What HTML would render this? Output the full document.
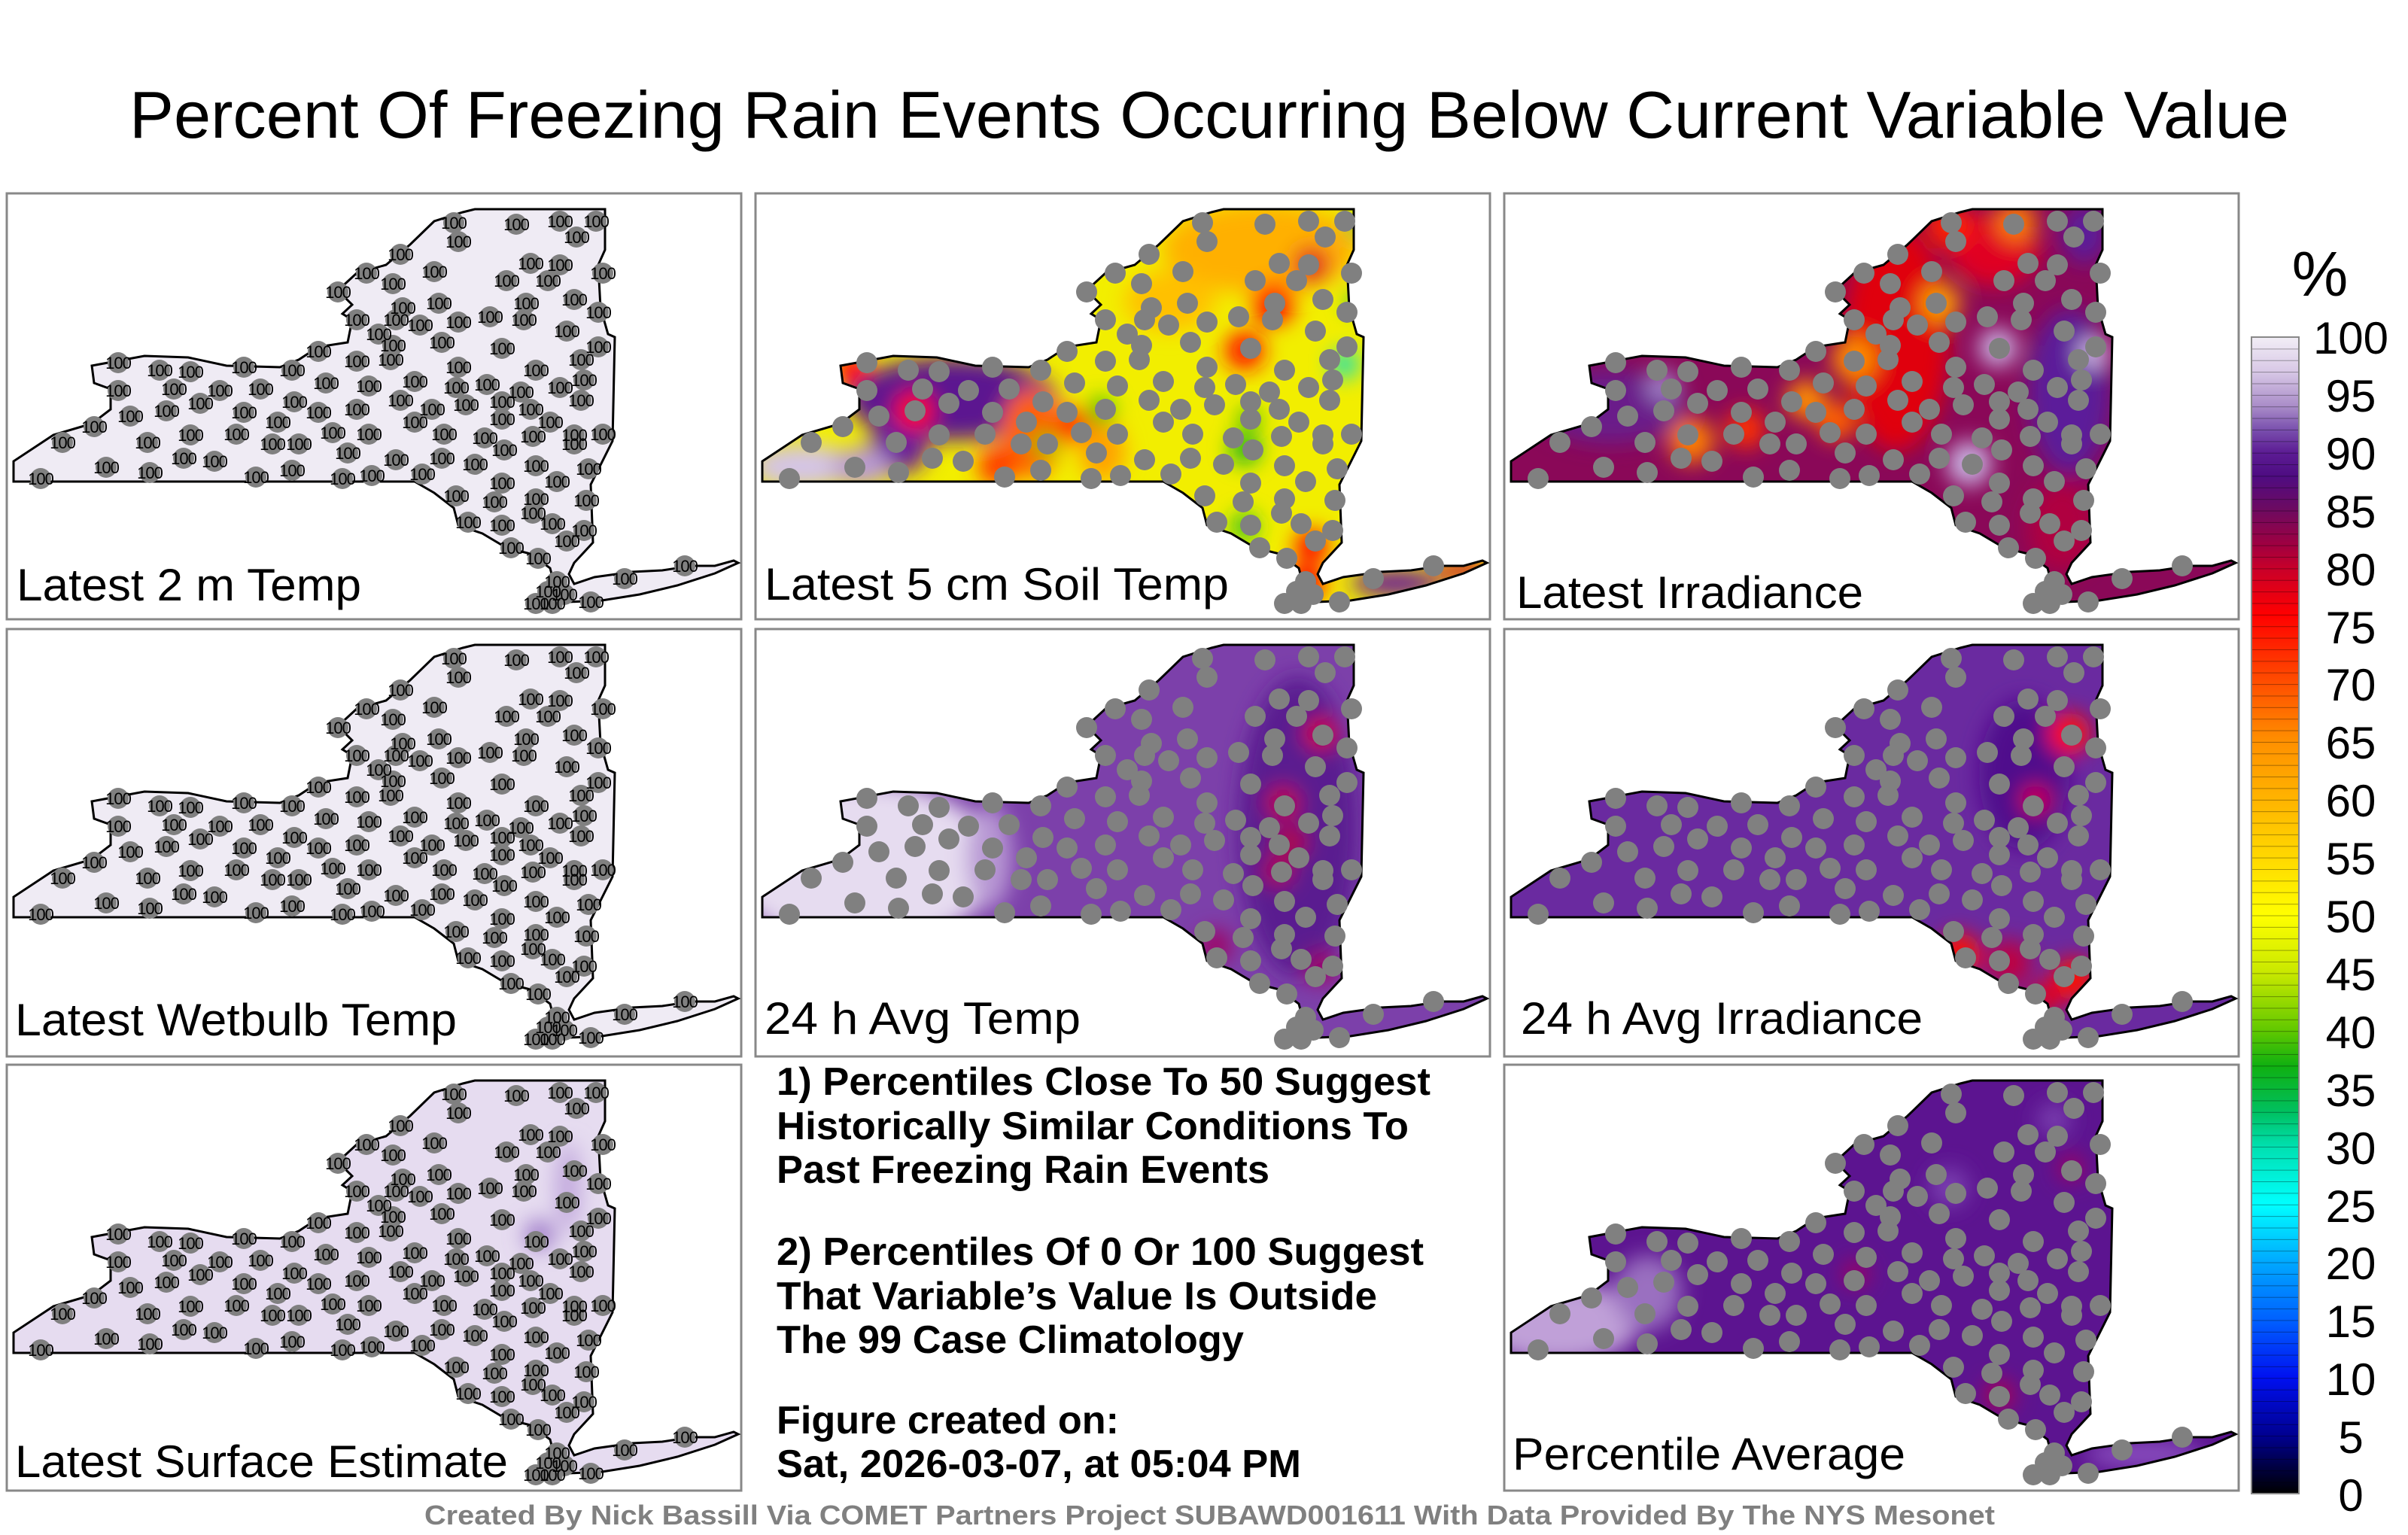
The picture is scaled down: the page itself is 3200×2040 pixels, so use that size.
<!DOCTYPE html>
<html><head><meta charset="utf-8"><style>html,body{margin:0;padding:0;background:#fff}svg{display:block}</style></head>
<body>
<svg xmlns="http://www.w3.org/2000/svg" xmlns:xlink="http://www.w3.org/1999/xlink" width="3200" height="2040" viewBox="0 0 3200 2040" font-family="'Liberation Sans', sans-serif">
<defs>
<path id="ny" d="M18,613 L18,640 L551,640 L577,655 L603,675 L609,698 L641,709 L673,728 L705,736 L731,755 L737,778 L731,805 L756,800 L800,798 L850,790 L900,778 L950,762 L981,748 L975,745 L950,752 L920,752 L880,758 L840,760 L790,767 L763,776 L756,763 L763,748 L788,721 L785,644 L814,586 L817,448 L808,444 L798,409 L795,352 L804,332 L804,278 L631,278 L615,282 L577,294 L545,325 L513,352 L474,363 L449,386 L468,405 L455,417 L468,425 L462,455 L423,461 L397,478 L372,488 L301,486 L250,475 L192,473 L122,486 L125,509 L147,517 L147,544 L122,563 L71,578 Z"/>
<clipPath id="c"><use xlink:href="#ny"/></clipPath>
<filter id="b" x="-50%" y="-50%" width="200%" height="200%"><feGaussianBlur stdDeviation="14"/></filter>
<linearGradient id="cb" x1="0" y1="0" x2="0" y2="1">
<stop offset="0" stop-color="#f2eef6"/><stop offset="0.03" stop-color="#d8c8e6"/><stop offset="0.06" stop-color="#a98cc8"/>
<stop offset="0.08" stop-color="#7a50ae"/><stop offset="0.10" stop-color="#5c1c94"/><stop offset="0.12" stop-color="#4e0c82"/>
<stop offset="0.15" stop-color="#6e0a60"/><stop offset="0.18" stop-color="#a00040"/><stop offset="0.20" stop-color="#c8002a"/>
<stop offset="0.24" stop-color="#ff0000"/><stop offset="0.30" stop-color="#ff5000"/><stop offset="0.35" stop-color="#ff9000"/>
<stop offset="0.40" stop-color="#ffb400"/><stop offset="0.45" stop-color="#ffd800"/><stop offset="0.50" stop-color="#ffff00"/>
<stop offset="0.55" stop-color="#c8e800"/><stop offset="0.60" stop-color="#60c800"/><stop offset="0.63" stop-color="#10b010"/>
<stop offset="0.67" stop-color="#00c060"/><stop offset="0.70" stop-color="#00e0b0"/><stop offset="0.75" stop-color="#00ffff"/>
<stop offset="0.80" stop-color="#00a8ff"/><stop offset="0.85" stop-color="#0060ff"/><stop offset="0.90" stop-color="#0010f0"/>
<stop offset="0.95" stop-color="#000090"/><stop offset="1" stop-color="#000000"/>
</linearGradient>
<pattern id="ln" width="10" height="15.37" patternUnits="userSpaceOnUse" y="448"><rect width="10" height="1" fill="#000" opacity="0.35"/></pattern>
<g id="st" fill="#808080">
<circle cx="603" cy="296" r="14"/><circle cx="686" cy="298" r="14"/><circle cx="744" cy="294" r="14"/><circle cx="792" cy="294" r="14"/><circle cx="766" cy="315" r="14"/><circle cx="609" cy="321" r="14"/><circle cx="532" cy="338" r="14"/><circle cx="705" cy="350" r="14"/><circle cx="744" cy="352" r="14"/><circle cx="487" cy="363" r="14"/><circle cx="577" cy="361" r="14"/><circle cx="673" cy="373" r="14"/><circle cx="728" cy="373" r="14"/><circle cx="801" cy="363" r="14"/><circle cx="522" cy="377" r="14"/><circle cx="449" cy="388" r="14"/><circle cx="583" cy="403" r="14"/><circle cx="535" cy="409" r="14"/><circle cx="699" cy="403" r="14"/><circle cx="763" cy="398" r="14"/><circle cx="795" cy="415" r="14"/><circle cx="474" cy="425" r="14"/><circle cx="526" cy="425" r="14"/><circle cx="558" cy="432" r="14"/><circle cx="609" cy="428" r="14"/><circle cx="651" cy="421" r="14"/><circle cx="696" cy="425" r="14"/><circle cx="753" cy="440" r="14"/><circle cx="503" cy="444" r="14"/><circle cx="587" cy="455" r="14"/><circle cx="522" cy="459" r="14"/><circle cx="667" cy="463" r="14"/><circle cx="795" cy="461" r="14"/><circle cx="423" cy="467" r="14"/><circle cx="474" cy="480" r="14"/><circle cx="519" cy="478" r="14"/><circle cx="772" cy="478" r="14"/><circle cx="609" cy="488" r="14"/><circle cx="712" cy="492" r="14"/><circle cx="157" cy="482" r="14"/><circle cx="212" cy="492" r="14"/><circle cx="253" cy="494" r="14"/><circle cx="324" cy="488" r="14"/><circle cx="388" cy="492" r="14"/><circle cx="433" cy="509" r="14"/><circle cx="490" cy="513" r="14"/><circle cx="551" cy="507" r="14"/><circle cx="606" cy="515" r="14"/><circle cx="647" cy="511" r="14"/><circle cx="692" cy="521" r="14"/><circle cx="744" cy="515" r="14"/><circle cx="776" cy="505" r="14"/><circle cx="157" cy="519" r="14"/><circle cx="231" cy="517" r="14"/><circle cx="292" cy="519" r="14"/><circle cx="346" cy="517" r="14"/><circle cx="391" cy="534" r="14"/><circle cx="266" cy="536" r="14"/><circle cx="221" cy="546" r="14"/><circle cx="772" cy="532" r="14"/><circle cx="532" cy="532" r="14"/><circle cx="574" cy="544" r="14"/><circle cx="619" cy="538" r="14"/><circle cx="667" cy="534" r="14"/><circle cx="705" cy="544" r="14"/><circle cx="731" cy="561" r="14"/><circle cx="173" cy="553" r="14"/><circle cx="324" cy="548" r="14"/><circle cx="369" cy="561" r="14"/><circle cx="423" cy="548" r="14"/><circle cx="474" cy="544" r="14"/><circle cx="551" cy="561" r="14"/><circle cx="667" cy="557" r="14"/><circle cx="125" cy="567" r="14"/><circle cx="83" cy="588" r="14"/><circle cx="196" cy="588" r="14"/><circle cx="253" cy="578" r="14"/><circle cx="314" cy="577" r="14"/><circle cx="362" cy="590" r="14"/><circle cx="397" cy="590" r="14"/><circle cx="442" cy="575" r="14"/><circle cx="490" cy="577" r="14"/><circle cx="590" cy="577" r="14"/><circle cx="644" cy="582" r="14"/><circle cx="708" cy="580" r="14"/><circle cx="763" cy="578" r="14"/><circle cx="801" cy="577" r="14"/><circle cx="763" cy="590" r="14"/><circle cx="670" cy="598" r="14"/><circle cx="462" cy="602" r="14"/><circle cx="141" cy="621" r="14"/><circle cx="244" cy="609" r="14"/><circle cx="285" cy="613" r="14"/><circle cx="388" cy="625" r="14"/><circle cx="199" cy="628" r="14"/><circle cx="54" cy="636" r="14"/><circle cx="340" cy="634" r="14"/><circle cx="455" cy="636" r="14"/><circle cx="494" cy="632" r="14"/><circle cx="561" cy="630" r="14"/><circle cx="587" cy="609" r="14"/><circle cx="526" cy="611" r="14"/><circle cx="631" cy="617" r="14"/><circle cx="712" cy="619" r="14"/><circle cx="782" cy="623" r="14"/><circle cx="667" cy="642" r="14"/><circle cx="740" cy="640" r="14"/><circle cx="606" cy="659" r="14"/><circle cx="657" cy="667" r="14"/><circle cx="712" cy="663" r="14"/><circle cx="779" cy="665" r="14"/><circle cx="708" cy="682" r="14"/><circle cx="622" cy="694" r="14"/><circle cx="667" cy="698" r="14"/><circle cx="734" cy="696" r="14"/><circle cx="776" cy="705" r="14"/><circle cx="753" cy="719" r="14"/><circle cx="679" cy="728" r="14"/><circle cx="715" cy="742" r="14"/><circle cx="740" cy="773" r="14"/><circle cx="728" cy="786" r="14"/><circle cx="750" cy="790" r="14"/><circle cx="712" cy="802" r="14"/><circle cx="734" cy="802" r="14"/><circle cx="785" cy="800" r="14"/><circle cx="830" cy="769" r="14"/><circle cx="910" cy="752" r="14"/>
</g>
<g id="t100" font-size="22" text-anchor="middle" fill="#000" letter-spacing="-1">
<text x="603" y="304">100</text><text x="686" y="306">100</text><text x="744" y="302">100</text><text x="792" y="302">100</text><text x="766" y="323">100</text><text x="609" y="329">100</text><text x="532" y="346">100</text><text x="705" y="358">100</text><text x="744" y="360">100</text><text x="487" y="371">100</text><text x="577" y="369">100</text><text x="673" y="381">100</text><text x="728" y="381">100</text><text x="801" y="371">100</text><text x="522" y="385">100</text><text x="449" y="396">100</text><text x="583" y="411">100</text><text x="535" y="417">100</text><text x="699" y="411">100</text><text x="763" y="406">100</text><text x="795" y="423">100</text><text x="474" y="433">100</text><text x="526" y="433">100</text><text x="558" y="440">100</text><text x="609" y="436">100</text><text x="651" y="429">100</text><text x="696" y="433">100</text><text x="753" y="448">100</text><text x="503" y="452">100</text><text x="587" y="463">100</text><text x="522" y="467">100</text><text x="667" y="471">100</text><text x="795" y="469">100</text><text x="423" y="475">100</text><text x="474" y="488">100</text><text x="519" y="486">100</text><text x="772" y="486">100</text><text x="609" y="496">100</text><text x="712" y="500">100</text><text x="157" y="490">100</text><text x="212" y="500">100</text><text x="253" y="502">100</text><text x="324" y="496">100</text><text x="388" y="500">100</text><text x="433" y="517">100</text><text x="490" y="521">100</text><text x="551" y="515">100</text><text x="606" y="523">100</text><text x="647" y="519">100</text><text x="692" y="529">100</text><text x="744" y="523">100</text><text x="776" y="513">100</text><text x="157" y="527">100</text><text x="231" y="525">100</text><text x="292" y="527">100</text><text x="346" y="525">100</text><text x="391" y="542">100</text><text x="266" y="544">100</text><text x="221" y="554">100</text><text x="772" y="540">100</text><text x="532" y="540">100</text><text x="574" y="552">100</text><text x="619" y="546">100</text><text x="667" y="542">100</text><text x="705" y="552">100</text><text x="731" y="569">100</text><text x="173" y="561">100</text><text x="324" y="556">100</text><text x="369" y="569">100</text><text x="423" y="556">100</text><text x="474" y="552">100</text><text x="551" y="569">100</text><text x="667" y="565">100</text><text x="125" y="575">100</text><text x="83" y="596">100</text><text x="196" y="596">100</text><text x="253" y="586">100</text><text x="314" y="585">100</text><text x="362" y="598">100</text><text x="397" y="598">100</text><text x="442" y="583">100</text><text x="490" y="585">100</text><text x="590" y="585">100</text><text x="644" y="590">100</text><text x="708" y="588">100</text><text x="763" y="586">100</text><text x="801" y="585">100</text><text x="763" y="598">100</text><text x="670" y="606">100</text><text x="462" y="610">100</text><text x="141" y="629">100</text><text x="244" y="617">100</text><text x="285" y="621">100</text><text x="388" y="633">100</text><text x="199" y="636">100</text><text x="54" y="644">100</text><text x="340" y="642">100</text><text x="455" y="644">100</text><text x="494" y="640">100</text><text x="561" y="638">100</text><text x="587" y="617">100</text><text x="526" y="619">100</text><text x="631" y="625">100</text><text x="712" y="627">100</text><text x="782" y="631">100</text><text x="667" y="650">100</text><text x="740" y="648">100</text><text x="606" y="667">100</text><text x="657" y="675">100</text><text x="712" y="671">100</text><text x="779" y="673">100</text><text x="708" y="690">100</text><text x="622" y="702">100</text><text x="667" y="706">100</text><text x="734" y="704">100</text><text x="776" y="713">100</text><text x="753" y="727">100</text><text x="679" y="736">100</text><text x="715" y="750">100</text><text x="740" y="781">100</text><text x="728" y="794">100</text><text x="750" y="798">100</text><text x="712" y="810">100</text><text x="734" y="810">100</text><text x="785" y="808">100</text><text x="830" y="777">100</text><text x="910" y="760">100</text>
</g>
</defs>
<rect width="3200" height="2040" fill="#fff"/>
<text x="172" y="183" font-size="88" textLength="2870" lengthAdjust="spacingAndGlyphs">Percent Of Freezing Rain Events Occurring Below Current Variable Value</text>

<g fill="none" stroke="#888" stroke-width="3">
<rect x="9" y="257" width="976" height="566"/><rect x="1004" y="257" width="976" height="566"/><rect x="1999" y="257" width="976" height="566"/>
<rect x="9" y="836" width="976" height="568"/><rect x="1004" y="836" width="976" height="568"/><rect x="1999" y="836" width="976" height="568"/>
<rect x="9" y="1415" width="976" height="566"/><rect x="1999" y="1415" width="976" height="566"/>
</g>

<g>
<use xlink:href="#ny" fill="#efebf4" stroke="#000" stroke-width="3"/>
<use xlink:href="#st"/><use xlink:href="#t100"/>
<text x="22" y="798" font-size="60" textLength="458" lengthAdjust="spacingAndGlyphs">Latest 2 m Temp</text>
</g>
<g transform="translate(995,0)">
<g clip-path="url(#c)"><rect x="0" y="250" width="1000" height="600" fill="#f2ee00"/>
<g filter="url(#b)">
<ellipse cx="680" cy="330" rx="130" ry="60" fill="#ffb000"/><ellipse cx="560" cy="400" rx="60" ry="40" fill="#ffc000"/>
<ellipse cx="270" cy="530" rx="140" ry="55" fill="#5c1490"/><ellipse cx="200" cy="590" rx="40" ry="40" fill="#6a1e9a"/><ellipse cx="70" cy="620" rx="70" ry="30" fill="#d4c4e6"/><ellipse cx="150" cy="620" rx="40" ry="25" fill="#b898d8"/>
<ellipse cx="375" cy="575" rx="40" ry="60" fill="#ff6000"/><ellipse cx="470" cy="600" rx="30" ry="40" fill="#ffa000"/>
<circle cx="220" cy="546" r="26" fill="#ff0000"/><circle cx="430" cy="564" r="22" fill="#ff2000"/><circle cx="697" cy="403" r="28" fill="#ff0000"/><circle cx="659" cy="466" r="26" fill="#ff1800"/><circle cx="748" cy="352" r="25" fill="#e00020"/><circle cx="748" cy="726" r="22" fill="#ff0000"/><circle cx="137" cy="491" r="22" fill="#ff0000"/><circle cx="740" cy="775" r="25" fill="#ff0000"/><circle cx="330" cy="620" r="25" fill="#ff3000"/>
<circle cx="468" cy="546" r="18" fill="#30c000"/><circle cx="392" cy="590" r="16" fill="#60c800"/><circle cx="659" cy="597" r="20" fill="#10b020"/><circle cx="665" cy="557" r="15" fill="#30c000"/><circle cx="659" cy="700" r="18" fill="#20c020"/><circle cx="792" cy="484" r="18" fill="#00e0d0"/><circle cx="808" cy="400" r="14" fill="#20c040"/><circle cx="808" cy="300" r="14" fill="#20c040"/>
<ellipse cx="860" cy="775" rx="60" ry="18" fill="#6a1e9a"/><ellipse cx="950" cy="758" rx="40" ry="12" fill="#c00040"/>
</g></g>
<use xlink:href="#ny" fill="none" stroke="#000" stroke-width="3"/><use xlink:href="#st"/>
<text x="21" y="797" font-size="60" textLength="617" lengthAdjust="spacingAndGlyphs">Latest 5 cm Soil Temp</text>
</g>
<g transform="translate(1990,0)">
<g clip-path="url(#c)"><rect x="0" y="250" width="1000" height="600" fill="#8a0858"/>
<g filter="url(#b)">
<ellipse cx="530" cy="450" rx="70" ry="150" fill="#e00010"/><ellipse cx="660" cy="330" rx="60" ry="50" fill="#e00020"/><ellipse cx="600" cy="300" rx="30" ry="30" fill="#ff2000"/>
<circle cx="474" cy="477" r="30" fill="#ff8c00"/><circle cx="258" cy="586" r="30" fill="#ff8000"/><circle cx="410" cy="531" r="26" fill="#ff9000"/><circle cx="589" cy="403" r="26" fill="#ffa000"/><circle cx="690" cy="294" r="26" fill="#ff8000"/><circle cx="450" cy="560" r="26" fill="#ff6000"/><circle cx="330" cy="570" r="26" fill="#ff3000"/>
<ellipse cx="760" cy="520" rx="55" ry="110" fill="#5c1c9a"/><ellipse cx="780" cy="310" rx="30" ry="40" fill="#5c1c9a"/><ellipse cx="150" cy="540" rx="100" ry="50" fill="#6a1a8a"/>
<circle cx="665" cy="462" r="26" fill="#c8b0e0"/><circle cx="627" cy="616" r="30" fill="#c8b0e0"/><circle cx="792" cy="469" r="22" fill="#c8b0e0"/><circle cx="220" cy="513" r="22" fill="#a080c8"/>
<ellipse cx="750" cy="700" rx="45" ry="60" fill="#b00040"/>
</g></g>
<use xlink:href="#ny" fill="none" stroke="#000" stroke-width="3"/><use xlink:href="#st"/>
<text x="25" y="808" font-size="60" textLength="461" lengthAdjust="spacingAndGlyphs">Latest Irradiance</text>
</g>
<g transform="translate(0,579)">
<use xlink:href="#ny" fill="#efebf4" stroke="#000" stroke-width="3"/>
<use xlink:href="#st"/><use xlink:href="#t100"/>
<text x="20" y="797" font-size="60" textLength="587" lengthAdjust="spacingAndGlyphs">Latest Wetbulb Temp</text>
</g>
<g transform="translate(995,579)">
<g clip-path="url(#c)"><rect x="0" y="250" width="1000" height="600" fill="#7c40aa"/>
<g filter="url(#b)">
<ellipse cx="150" cy="570" rx="180" ry="110" fill="#e6dcf0"/><ellipse cx="320" cy="560" rx="30" ry="70" fill="#b898d4"/>
<ellipse cx="730" cy="520" rx="80" ry="200" fill="#5a1a90"/>
<circle cx="760" cy="396" r="22" fill="#d00030"/><circle cx="710" cy="488" r="22" fill="#c00040"/><circle cx="703" cy="579" r="20" fill="#b00050"/><circle cx="620" cy="678" r="22" fill="#a00060"/><circle cx="760" cy="707" r="22" fill="#a00060"/><circle cx="720" cy="540" r="22" fill="#b00040"/>
</g></g>
<use xlink:href="#ny" fill="none" stroke="#000" stroke-width="3"/><use xlink:href="#st"/>
<text x="21" y="795" font-size="60" textLength="420" lengthAdjust="spacingAndGlyphs">24 h Avg Temp</text>
</g>
<g transform="translate(1990,579)">
<g clip-path="url(#c)"><rect x="0" y="250" width="1000" height="600" fill="#6a2aa0"/>
<g filter="url(#b)">
<ellipse cx="700" cy="450" rx="60" ry="100" fill="#500c8c"/>
<circle cx="760" cy="396" r="28" fill="#ff1010"/><circle cx="715" cy="484" r="20" fill="#d00040"/><circle cx="614" cy="689" r="28" fill="#ff1000"/><circle cx="765" cy="722" r="28" fill="#ff1000"/><circle cx="727" cy="748" r="22" fill="#e00020"/><circle cx="680" cy="700" r="30" fill="#c00040"/>
</g></g>
<use xlink:href="#ny" fill="none" stroke="#000" stroke-width="3"/><use xlink:href="#st"/>
<text x="31" y="795" font-size="60" textLength="534" lengthAdjust="spacingAndGlyphs">24 h Avg Irradiance</text>
</g>
<g transform="translate(0,1158)">
<g clip-path="url(#c)"><rect x="0" y="250" width="1000" height="600" fill="#e6dcf0"/>
<g filter="url(#b)"><ellipse cx="755" cy="420" rx="16" ry="60" fill="#c0a6dc"/><circle cx="717" cy="483" r="20" fill="#9c78c8"/></g></g>
<use xlink:href="#ny" fill="none" stroke="#000" stroke-width="3"/><use xlink:href="#st"/><use xlink:href="#t100"/>
<text x="20" y="805" font-size="60" textLength="655" lengthAdjust="spacingAndGlyphs">Latest Surface Estimate</text>
</g>
<g transform="translate(1990,1158)">
<g clip-path="url(#c)"><rect x="0" y="250" width="1000" height="600" fill="#5c1490"/>
<g filter="url(#b)">
<ellipse cx="80" cy="600" rx="110" ry="55" fill="#c0a0d8"/><ellipse cx="200" cy="560" rx="45" ry="50" fill="#9a70c0"/>
<circle cx="600" cy="420" r="26" fill="#7a40b0"/><circle cx="740" cy="330" r="22" fill="#7a40b0"/>
<circle cx="667" cy="696" r="20" fill="#b00050"/><circle cx="476" cy="535" r="18" fill="#a00060"/><circle cx="762" cy="394" r="18" fill="#a00060"/>
<ellipse cx="860" cy="775" rx="80" ry="18" fill="#8a50c0"/>
</g></g>
<use xlink:href="#ny" fill="none" stroke="#000" stroke-width="3"/><use xlink:href="#st"/>
<text x="20" y="795" font-size="60" textLength="522" lengthAdjust="spacingAndGlyphs">Percentile Average</text>
</g>

<g font-weight="bold" font-size="52" fill="#000">
<text x="1032" y="1455" textLength="869" lengthAdjust="spacingAndGlyphs">1) Percentiles Close To 50 Suggest</text>
<text x="1032" y="1514" textLength="840" lengthAdjust="spacingAndGlyphs">Historically Similar Conditions To</text>
<text x="1032" y="1572" textLength="655" lengthAdjust="spacingAndGlyphs">Past Freezing Rain Events</text>
<text x="1032" y="1681" textLength="860" lengthAdjust="spacingAndGlyphs">2) Percentiles Of 0 Or 100 Suggest</text>
<text x="1032" y="1740" textLength="798" lengthAdjust="spacingAndGlyphs">That Variable’s Value Is Outside</text>
<text x="1032" y="1798" textLength="621" lengthAdjust="spacingAndGlyphs">The 99 Case Climatology</text>
<text x="1032" y="1905" textLength="455" lengthAdjust="spacingAndGlyphs">Figure created on:</text>
<text x="1032" y="1963" textLength="697" lengthAdjust="spacingAndGlyphs">Sat, 2026-03-07, at 05:04 PM</text>
</g>
<text x="564" y="2026" font-weight="bold" font-size="36" fill="#808080" textLength="2087" lengthAdjust="spacingAndGlyphs">Created By Nick Bassill Via COMET Partners Project SUBAWD001611 With Data Provided By The NYS Mesonet</text>

<rect x="2992" y="448" width="63" height="1537" fill="url(#cb)"/>
<rect x="2992" y="448" width="63" height="1537" fill="url(#ln)"/>
<rect x="2992" y="448" width="63" height="1537" fill="none" stroke="#888" stroke-width="2"/>
<text x="3083" y="393" font-size="84" text-anchor="middle">%</text>
<g font-size="60" text-anchor="middle">
<text x="3124" y="470">100</text><text x="3124" y="547">95</text><text x="3124" y="624">90</text><text x="3124" y="701">85</text><text x="3124" y="778">80</text><text x="3124" y="855">75</text><text x="3124" y="931">70</text><text x="3124" y="1008">65</text><text x="3124" y="1085">60</text><text x="3124" y="1162">55</text><text x="3124" y="1239">50</text><text x="3124" y="1316">45</text><text x="3124" y="1393">40</text><text x="3124" y="1470">35</text><text x="3124" y="1547">30</text><text x="3124" y="1624">25</text><text x="3124" y="1700">20</text><text x="3124" y="1777">15</text><text x="3124" y="1854">10</text><text x="3124" y="1931">5</text><text x="3124" y="2008">0</text>
</g>
</svg>
</body></html>
